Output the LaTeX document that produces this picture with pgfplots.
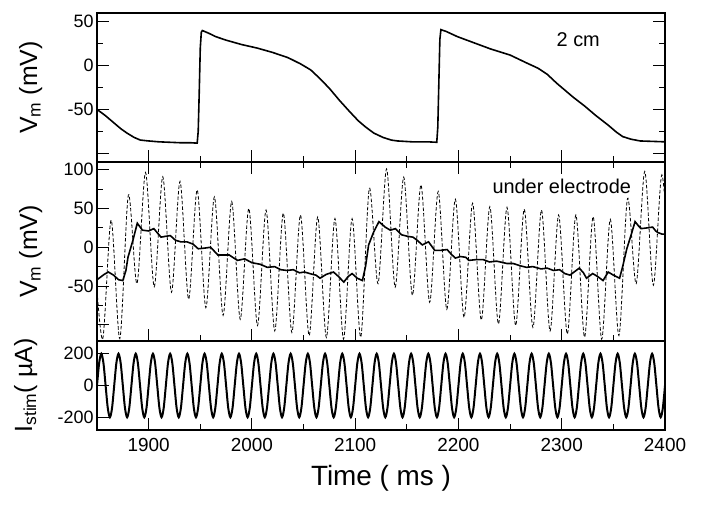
\documentclass[border=0pt]{standalone}
\usepackage{fontspec}
\setmainfont{Liberation Sans}
\usepackage{pgfplots}
\pgfplotsset{compat=1.18}
\pgfplotsset{
  panel/.style={
    scale only axis, width=568bp,
    xmin=1850, xmax=2400,
    xtick={1900,2000,2100,2200,2300,2400},
    minor x tick num=1,
    tick align=inside,
    major tick length=12bp, minor tick length=6bp,
    axis line style={line width=1.1pt},
    every tick/.style={black, line width=0.9pt},
    /pgf/number format/assume math mode=true,
    /pgf/number format/1000 sep={},
    tick label style={font=\fontsize{18}{20}\selectfont},
    yticklabel pos=left,
    ylabel style={at={(axis description cs:-0.1056,0.5)}, anchor=base, font=\fontsize{25}{28}\selectfont},
  }
}
\begin{document}
\begin{tikzpicture}[x=1bp,y=1bp]
\path (0,0) rectangle (704,505);
% ---------- top panel ----------
\begin{axis}[panel, at={(97bp,343bp)}, anchor=south west, height=149bp,
  ymin=-110, ymax=60,
  ytick={-100,-50,0,50}, yticklabels={,-50,0,50}, minor y tick num=1,
  xticklabels={}, xtick pos=left, ytick pos=both,
  ylabel={V\textsubscript{m} (mV)}]
\addplot[black, line width=1.6bp] coordinates {
(1850,-50)(1858,-57)(1866,-65)(1873,-72)(1879,-77)(1886,-82)(1892,-85)(1900,-86)(1910,-87)(1920,-87.5)(1930,-88)(1940,-88)(1947,-88.5)
(1948,-75)(1949,-30)(1950,20)(1951,38)(1952,40)(1958,37)(1965,33)(1975,29)(1990,24)(2005,20)(2020,15)(2035,9)(2047,2)(2057,-5)(2066,-15)(2075,-26)(2085,-40)(2095,-53)(2103,-63)(2110,-70)(2118,-77)(2127,-82)(2135,-85)(2141,-86)(2155,-87)(2170,-87)(2179,-87.5)
(2180,-70)(2181,-20)(2182,30)(2183,41)(2188,39)(2199,33)(2215,26)(2231,19)(2250,12)(2266,3)(2277,-3)(2286,-10)(2295,-20)(2305,-30)(2311,-36)(2322,-46)(2333,-57)(2345,-68)(2353,-76)(2359,-81)(2367,-84)(2376,-86)(2388,-86.5)(2400,-87)
};
\node[font=\fontsize{20}{22}\selectfont] at (axis cs:2316,29.5) {2 cm};
\end{axis}
% ---------- middle panel ----------
\begin{axis}[panel, at={(97bp,164bp)}, anchor=south west, height=179bp,
  ymin=-121, ymax=110,
  ytick={-100,-50,0,50,100}, yticklabels={,-50,0,50,100}, minor y tick num=1,
  xticklabels={}, xtick pos=both, ytick pos=left,
  ylabel={V\textsubscript{m} (mV)}]
\addplot[black, line width=0.8bp, dash pattern=on 3.5bp off 2bp, smooth] coordinates {
(1847.0,0)(1855.4,-119)(1863.7,35)(1872.1,-118)(1880.4,67.5)(1888.7,-47)(1897.0,96.5)(1905.4,-51)(1913.7,91)(1922.1,-58)(1930.4,85)(1938.7,-67)(1947.0,74)(1955.4,-78)(1963.7,65)(1972.1,-88)(1980.4,59)(1988.7,-93)(1997.0,50)(2005.4,-101)(2013.7,48)(2022.1,-108)(2030.4,44)(2038.7,-110)(2047.0,41.6)(2055.4,-114)(2063.7,39)(2072.1,-116.5)(2080.4,37)(2088.7,-118.5)(2097.0,37)(2105.4,-116)(2113.7,76)(2122.1,-47)(2130.4,101)(2138.7,-51.5)(2147.0,90.5)(2155.4,-62)(2163.7,80.5)(2172.1,-71)(2180.4,72)(2188.7,-80)(2197.0,62)(2205.4,-90.5)(2213.7,56.7)(2222.1,-94)(2230.4,52.4)(2238.7,-99)(2247.0,51.5)(2255.4,-101)(2263.7,49)(2272.1,-103.5)(2280.4,48)(2288.7,-108)(2297.0,41.6)(2305.4,-112)(2313.7,41.6)(2322.1,-116)(2330.4,39.4)(2338.7,-118.6)(2347.0,36)(2355.4,-114)(2363.7,63)(2372.1,-47)(2380.4,97.8)(2388.7,-49)(2397.0,93.5)(2405.4,-50)
};
\addplot[black, line width=1.6bp] coordinates {
(1850,-42)(1852,-40)(1857,-35)(1861,-32)(1866,-36)(1871,-42)(1875,-43)(1878,-30)(1880,-13)(1885,10)(1889,31)(1894,22)(1900,21)(1905,24)(1912,13)(1916,14)(1921,15)(1926,9)(1931,7)(1937,7)(1943,4)(1948,-2)(1955,-1)(1960,0)(1967,-10)(1972,-10)(1978,-10)(1986,-17)(1993,-15)(2000,-20)(2008,-22)(2015,-26)(2022,-25)(2028,-29)(2034,-30)(2040,-29)(2046,-33)(2051,-32)(2056,-34)(2062,-36)(2066,-40)(2072,-35)(2079,-32)(2084,-38)(2089,-45)(2093,-38)(2097,-34)(2102,-40)(2107,-43)(2110,-25)(2113,3)(2118,20)(2123,33)(2129,26)(2134,22)(2139,24)(2145,16)(2151,14)(2156,13)(2160,9)(2165,3)(2171,7)(2177,-4)(2183,-4)(2189,-3)(2193,-9)(2197,-14)(2202,-12)(2207,-13)(2210,-17)(2217,-16)(2224,-16)(2230,-19)(2237,-18)(2247,-21)(2253,-21)(2260,-24)(2266,-26)(2272,-25)(2280,-28)(2286,-27)(2292,-30)(2298,-29)(2303,-34)(2308,-36)(2313,-31)(2317,-27)(2321,-33)(2324,-40)(2330,-34)(2335,-38)(2340,-43)(2345,-32)(2350,-36)(2356,-40)(2359,-25)(2363,-2)(2367,15)(2371,33)(2374,28)(2377,24)(2383,25)(2388,26)(2391,21)(2393,19)(2397,17)(2400,17)
};
\node[font=\fontsize{20}{22}\selectfont] at (axis cs:2300,78) {under electrode};
\end{axis}
% ---------- bottom panel ----------
\begin{axis}[panel, at={(97bp,164bp)}, anchor=north west, height=89bp,
  ymin=-280, ymax=280,
  ytick={-200,0,200},
  xtick pos=left, ytick pos=left,
  xticklabel style={yshift=-5bp, font=\fontsize{19}{21}\selectfont},
  ylabel={I\textsubscript{stim}( µA)},
  ylabel style={at={(axis description cs:-0.1144,0.5)}},
  xlabel={Time ( ms )},
  xlabel style={at={(axis description cs:0.5,0)}, anchor=base, yshift=-55bp, font=\fontsize{28}{32}\selectfont}]
\addplot[black, line width=2bp, smooth] coordinates {
(1850,0)(1852.08,141)(1854.17,200)(1856.25,141)(1858.33,0)(1860.42,-141)(1862.5,-200)(1864.58,-141)(1866.67,0)(1868.75,141)(1870.83,200)(1872.92,141)
(1875,0)(1877.08,-141)(1879.17,-200)(1881.25,-141)(1883.33,0)(1885.42,141)(1887.5,200)(1889.58,141)(1891.67,0)(1893.75,-141)(1895.83,-200)(1897.92,-141)
(1900,0)(1902.08,141)(1904.17,200)(1906.25,141)(1908.33,0)(1910.42,-141)(1912.5,-200)(1914.58,-141)(1916.67,0)(1918.75,141)(1920.83,200)(1922.92,141)
(1925,0)(1927.08,-141)(1929.17,-200)(1931.25,-141)(1933.33,0)(1935.42,141)(1937.5,200)(1939.58,141)(1941.67,0)(1943.75,-141)(1945.83,-200)(1947.92,-141)
(1950,0)(1952.08,141)(1954.17,200)(1956.25,141)(1958.33,0)(1960.42,-141)(1962.5,-200)(1964.58,-141)(1966.67,0)(1968.75,141)(1970.83,200)(1972.92,141)
(1975,0)(1977.08,-141)(1979.17,-200)(1981.25,-141)(1983.33,0)(1985.42,141)(1987.5,200)(1989.58,141)(1991.67,0)(1993.75,-141)(1995.83,-200)(1997.92,-141)
(2000,0)(2002.08,141)(2004.17,200)(2006.25,141)(2008.33,0)(2010.42,-141)(2012.5,-200)(2014.58,-141)(2016.67,0)(2018.75,141)(2020.83,200)(2022.92,141)
(2025,0)(2027.08,-141)(2029.17,-200)(2031.25,-141)(2033.33,0)(2035.42,141)(2037.5,200)(2039.58,141)(2041.67,0)(2043.75,-141)(2045.83,-200)(2047.92,-141)
(2050,0)(2052.08,141)(2054.17,200)(2056.25,141)(2058.33,0)(2060.42,-141)(2062.5,-200)(2064.58,-141)(2066.67,0)(2068.75,141)(2070.83,200)(2072.92,141)
(2075,0)(2077.08,-141)(2079.17,-200)(2081.25,-141)(2083.33,0)(2085.42,141)(2087.5,200)(2089.58,141)(2091.67,0)(2093.75,-141)(2095.83,-200)(2097.92,-141)
(2100,0)(2102.08,141)(2104.17,200)(2106.25,141)(2108.33,0)(2110.42,-141)(2112.5,-200)(2114.58,-141)(2116.67,0)(2118.75,141)(2120.83,200)(2122.92,141)
(2125,0)(2127.08,-141)(2129.17,-200)(2131.25,-141)(2133.33,0)(2135.42,141)(2137.5,200)(2139.58,141)(2141.67,0)(2143.75,-141)(2145.83,-200)(2147.92,-141)
(2150,0)(2152.08,141)(2154.17,200)(2156.25,141)(2158.33,0)(2160.42,-141)(2162.5,-200)(2164.58,-141)(2166.67,0)(2168.75,141)(2170.83,200)(2172.92,141)
(2175,0)(2177.08,-141)(2179.17,-200)(2181.25,-141)(2183.33,0)(2185.42,141)(2187.5,200)(2189.58,141)(2191.67,0)(2193.75,-141)(2195.83,-200)(2197.92,-141)
(2200,0)(2202.08,141)(2204.17,200)(2206.25,141)(2208.33,0)(2210.42,-141)(2212.5,-200)(2214.58,-141)(2216.67,0)(2218.75,141)(2220.83,200)(2222.92,141)
(2225,0)(2227.08,-141)(2229.17,-200)(2231.25,-141)(2233.33,0)(2235.42,141)(2237.5,200)(2239.58,141)(2241.67,0)(2243.75,-141)(2245.83,-200)(2247.92,-141)
(2250,0)(2252.08,141)(2254.17,200)(2256.25,141)(2258.33,0)(2260.42,-141)(2262.5,-200)(2264.58,-141)(2266.67,0)(2268.75,141)(2270.83,200)(2272.92,141)
(2275,0)(2277.08,-141)(2279.17,-200)(2281.25,-141)(2283.33,0)(2285.42,141)(2287.5,200)(2289.58,141)(2291.67,0)(2293.75,-141)(2295.83,-200)(2297.92,-141)
(2300,0)(2302.08,141)(2304.17,200)(2306.25,141)(2308.33,0)(2310.42,-141)(2312.5,-200)(2314.58,-141)(2316.67,0)(2318.75,141)(2320.83,200)(2322.92,141)
(2325,0)(2327.08,-141)(2329.17,-200)(2331.25,-141)(2333.33,0)(2335.42,141)(2337.5,200)(2339.58,141)(2341.67,0)(2343.75,-141)(2345.83,-200)(2347.92,-141)
(2350,0)(2352.08,141)(2354.17,200)(2356.25,141)(2358.33,0)(2360.42,-141)(2362.5,-200)(2364.58,-141)(2366.67,0)(2368.75,141)(2370.83,200)(2372.92,141)
(2375,0)(2377.08,-141)(2379.17,-200)(2381.25,-141)(2383.33,0)(2385.42,141)(2387.5,200)(2389.58,141)(2391.67,0)(2393.75,-141)(2395.83,-200)(2397.92,-141)
(2400,0)
};
\end{axis}
\end{tikzpicture}
\end{document}
